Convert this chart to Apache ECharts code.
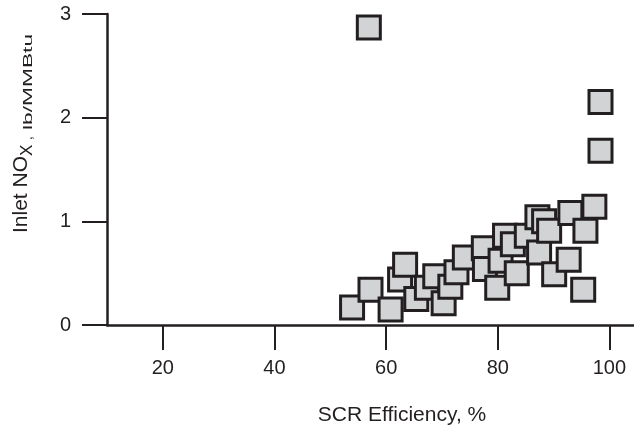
<!DOCTYPE html>
<html>
<head>
<meta charset="utf-8">
<script src="https://cdn.jsdelivr.net/npm/echarts@6/dist/echarts.min.js"></script>
<style>
  html, body { margin: 0; padding: 0; background: #ffffff; }
  #chart { width: 634px; height: 433px; }
</style>
</head>
<body>
<div id="chart"></div>
<script>
// SCR efficiency (%) for each unit
const efficiency = [
  56.9, 98.4, 98.4, 53.9, 57.2, 60.8, 62.5, 63.4, 65.4, 67.3, 68.8, 70.3,
  71.5, 72.6, 74.1, 77.5, 77.7, 79.9, 80.5, 81.3, 82.7, 83.4, 85.2, 87.4,
  87.1, 88.3, 89.2, 90.1, 92.7, 93.0, 95.3, 95.7, 97.3
];
// Inlet NOx (lb/MMBtu) for each unit
const inletNox = [
  2.87, 2.15, 1.68, 0.17, 0.34, 0.15, 0.44, 0.58, 0.25, 0.36, 0.47, 0.21,
  0.37, 0.51, 0.65, 0.74, 0.54, 0.36, 0.62, 0.86, 0.78, 0.50, 0.86, 0.70,
  1.04, 1.00, 0.91, 0.49, 0.63, 1.08, 0.34, 0.91, 1.14
];
// Axis tick values
const xTicks = [20, 40, 60, 80, 100];
const yTicks = [0, 1, 2, 3];

const ink = '#231f20';
const font = 'Liberation Sans, Arial, sans-serif';
const points = efficiency.map((x, i) => [x, inletNox[i]]);

const chart = echarts.init(document.getElementById('chart'), null, { renderer: 'canvas' });
chart.setOption({
  animation: false,
  backgroundColor: '#ffffff',
  textStyle: { fontFamily: font },
  grid: { left: 107, right: 0, top: 14, bottom: 108, containLabel: false },
  xAxis: {
    type: 'value',
    min: 10,
    max: 104.4,
    splitLine: { show: false },
    axisLine: { onZero: false, lineStyle: { color: ink, width: 2.5 } },
    axisTick: { show: true, inside: false, length: 25, customValues: xTicks,
                lineStyle: { color: ink, width: 2 } },
    axisLabel: { customValues: xTicks, margin: 33, fontSize: 20, color: ink, fontFamily: font }
  },
  yAxis: {
    type: 'value',
    min: 0,
    max: 3,
    interval: 1,
    splitLine: { show: false },
    axisLine: { show: true, onZero: false, lineStyle: { color: ink, width: 2.5 } },
    axisTick: { show: true, inside: false, length: 25, customValues: yTicks,
                lineStyle: { color: ink, width: 2 } },
    axisLabel: { customValues: yTicks, margin: 36, fontSize: 20, color: ink, fontFamily: font }
  },
  series: [{
    type: 'scatter',
    data: points,
    symbol: 'rect',
    symbolSize: 23,
    itemStyle: { color: '#d1d3d4', borderColor: ink, borderWidth: 3, opacity: 1 },
    emphasis: { disabled: true }
  }],
  graphic: [
    {
      // rotated y-axis title with subscript and a widened unit
      type: 'group',
      x: 29,
      y: 233,
      rotation: Math.PI / 2,
      children: [
        { type: 'text', x: 0, y: -7.4,
          style: { text: 'Inlet NO', fontSize: 21, fill: ink, align: 'left', verticalAlign: 'middle', fontFamily: font } },
        { type: 'text', x: 77, y: -2,
          style: { text: 'X', fontSize: 17, fill: ink, align: 'left', verticalAlign: 'middle', fontFamily: font } },
        { type: 'text', x: 93, y: -1,
          style: { text: ',', fontSize: 14, fill: ink, align: 'left', verticalAlign: 'middle', fontFamily: font } },
        { type: 'text', x: 103, y: -1, scaleX: 1.75,
          style: { text: 'lb/MMBtu', fontSize: 13, fill: ink, align: 'left', verticalAlign: 'middle', fontFamily: font } }
      ]
    },
    {
      type: 'text',
      x: 402,
      y: 415,
      style: { text: 'SCR Efficiency, %', fontSize: 21, fill: ink, align: 'center', verticalAlign: 'middle', fontFamily: font }
    }
  ]
});
</script>
</body>
</html>
